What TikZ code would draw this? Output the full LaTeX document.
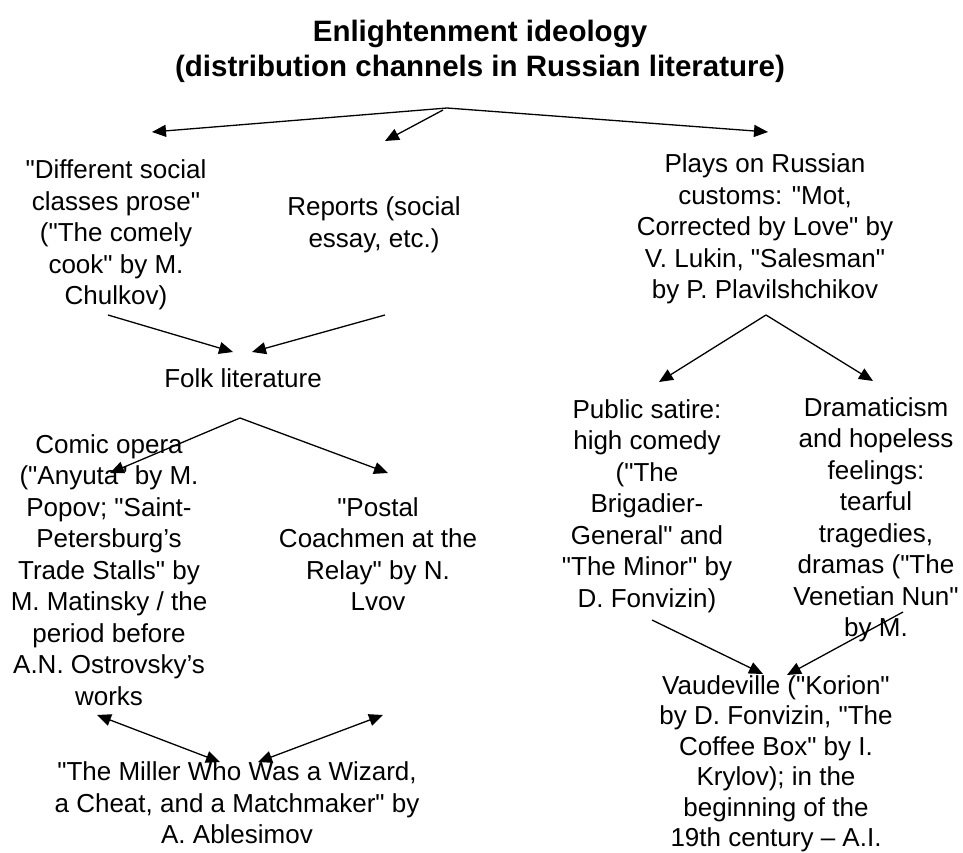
\documentclass[tikz,border=0pt]{standalone}
\usepackage{fontspec}
\newfontfamily\arial{Liberation Sans}
\usetikzlibrary{arrows.meta}
\tikzset{
  txt/.style={align=center, inner sep=0pt, font=\arial\fontsize{26}{31.5}\selectfont},
  ttl/.style={align=center, inner sep=0pt, font=\arial\fontsize{29.5}{35}\selectfont\bfseries},
  arr/.style={line width=1.3pt, -{Triangle[length=14pt,width=12pt]}},
  dbl/.style={line width=1.3pt, {Triangle[length=14pt,width=12pt]}-{Triangle[length=14pt,width=12pt]}},
}

\begin{document}
\begin{tikzpicture}[x=1pt,y=-1pt]
\useasboundingbox (0,0) rectangle (963,853);
\node[ttl] (title) at (480,51) {Enlightenment ideology\\(distribution channels in Russian literature)};
% first row
\node[txt] (prose) at (116,235) {"Different social\\classes prose"\\("The comely\\cook" by M.\\Chulkov)};
\node[txt] (reports) at (374,225) {Reports (social\\essay, etc.)};
\node[txt] (plays) at (765,229) {Plays on Russian\\customs: "Mot,\\Corrected by Love" by\\V. Lukin, "Salesman"\\by P. Plavilshchikov};
\node[txt] (folk) at (243,378) {Folk literature};
% left branch
\node[txt] (opera) at (109,570) {Comic opera\\("Anyuta" by M.\\Popov; "Saint-\\Petersburg’s\\Trade Stalls" by\\M. Matinsky / the\\period before\\A.N. Ostrovsky’s\\works};
\node[txt] (postal) at (378,554) {"Postal\\Coachmen at the\\Relay" by N.\\Lvov};
\node[txt] (miller) at (237,803) {"The Miller Who Was a Wizard,\\a Cheat, and a Matchmaker" by\\A. Ablesimov};
% right branch
\node[txt] (satire) at (647,506) {Public satire:\\high comedy\\("The\\Brigadier-\\General" and\\"The Minor" by\\D. Fonvizin)};
\node[txt] (drama) at (876,520) {Dramaticism\\and hopeless\\feelings:\\tearful\\tragedies,\\dramas ("The\\Venetian Nun"\\by M.};
\node[txt, font=\arial\fontsize{26}{30.5}\selectfont] (vaud) at (776,764) {Vaudeville ("Korion"\\by D. Fonvizin, "The\\Coffee Box" by I.\\Krylov); in the\\beginning of the\\19th century – A.I.};

% arrow ends
\coordinate (top) at (447,108);
\coordinate (top2) at (443,110);
\coordinate (toprose) at (152,132);
\coordinate (toreports) at (385,141);
\coordinate (toplays) at (768,132);
\coordinate (prosefoot) at (108,315);
\coordinate (reportsfoot) at (385,315);
\coordinate (folkin1) at (233,352);
\coordinate (folkin2) at (252,352);
\coordinate (folkfoot) at (240,418);
\coordinate (toopera) at (110,473);
\coordinate (topostal) at (388,473);
\coordinate (operafoot) at (97,715);
\coordinate (postalfoot) at (383,715);
\coordinate (millerin1) at (220,762);
\coordinate (millerin2) at (258,762);
\coordinate (playsfoot) at (766,315);
\coordinate (tosatire) at (659,382);
\coordinate (todrama) at (873,381);
\coordinate (satirefoot) at (652,620);
\coordinate (dramafoot) at (903,612);
\coordinate (vaudin1) at (763,674);
\coordinate (vaudin2) at (787,675);

\draw[arr] (top) -- (toprose);
\draw[arr] (top2) -- (toreports);
\draw[arr] (top) -- (toplays);
\draw[arr] (prosefoot) -- (folkin1);
\draw[arr] (reportsfoot) -- (folkin2);
\draw[arr] (folkfoot) -- (toopera);
\draw[arr] (folkfoot) -- (topostal);
\draw[dbl] (operafoot) -- (millerin1);
\draw[dbl] (postalfoot) -- (millerin2);
\draw[arr] (playsfoot) -- (tosatire);
\draw[arr] (playsfoot) -- (todrama);
\draw[arr] (satirefoot) -- (vaudin1);
\draw[arr] (dramafoot) -- (vaudin2);
\end{tikzpicture}
\end{document}
